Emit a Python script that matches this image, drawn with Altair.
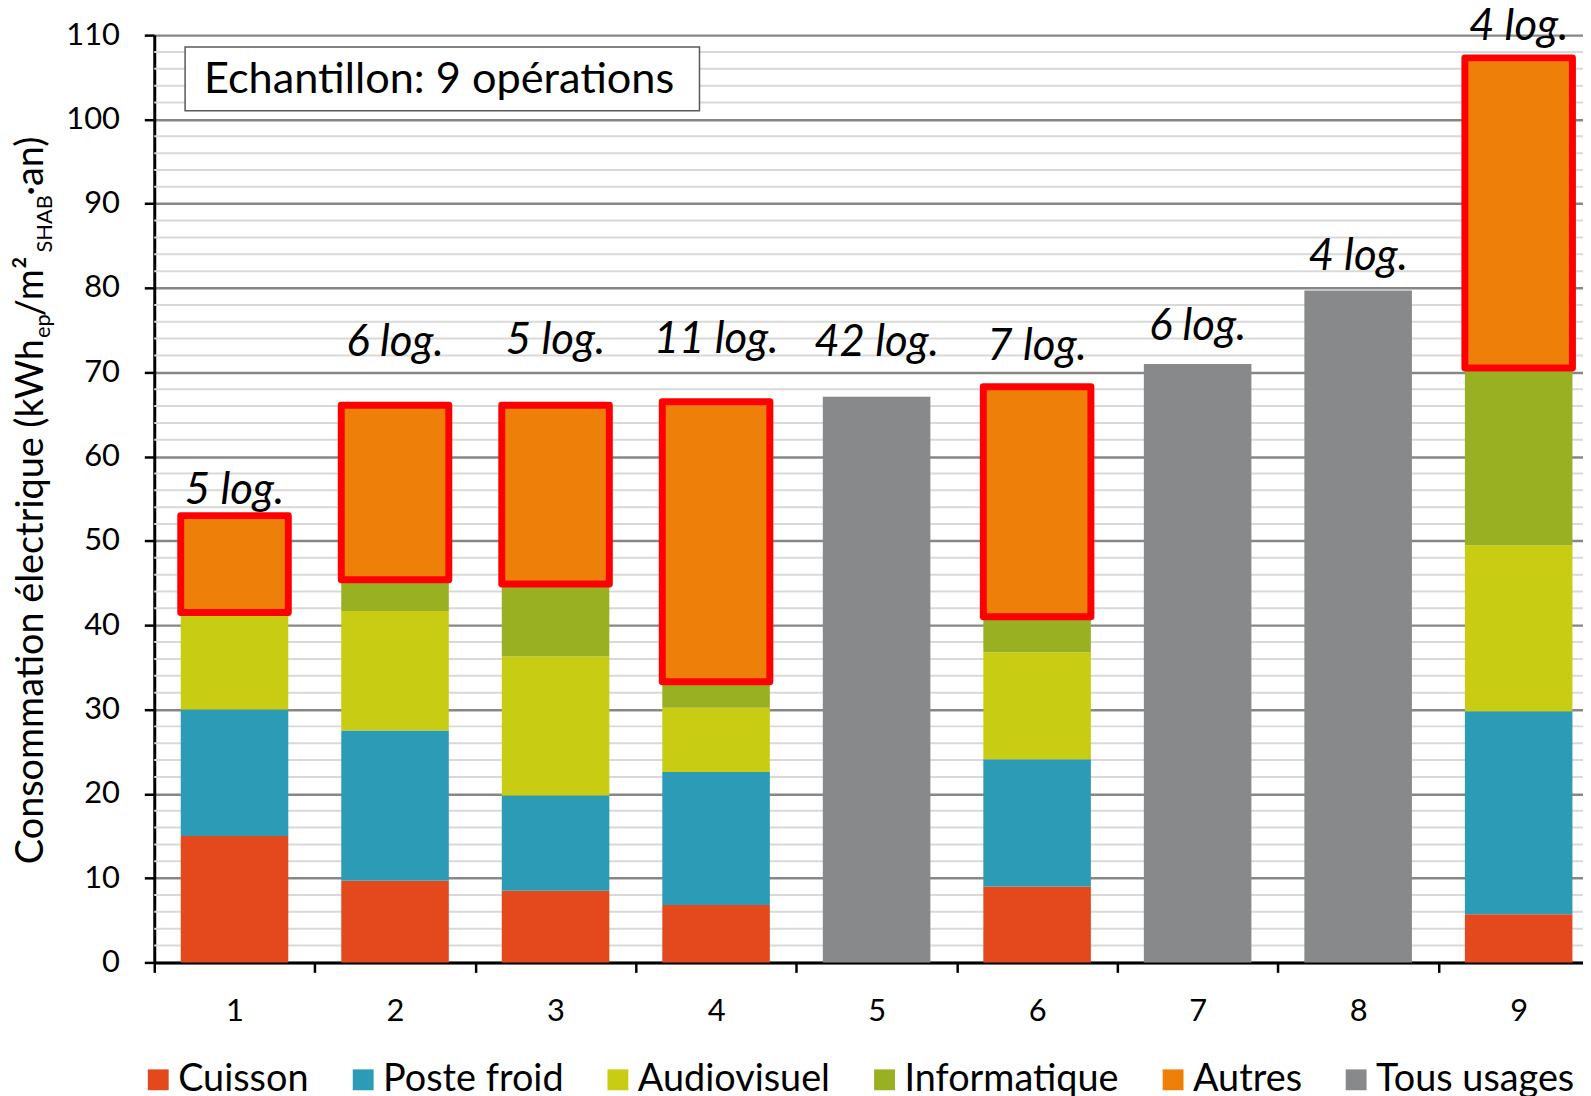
import altair as alt
import pandas as pd

# ---------------- data ----------------
operations = ["1", "2", "3", "4", "5", "6", "7", "8", "9"]
categories = ["Cuisson", "Poste froid", "Audiovisuel", "Informatique", "Autres", "Tous usages"]
colors = ["#E4491D", "#2B9BB6", "#C8CC12", "#99B023", "#EE8009", "#88898B"]

cuisson      = [15.0, 9.7, 8.5, 6.8, 0.0, 9.0, 0.0, 0.0, 5.7]
poste_froid  = [15.0, 17.8, 11.3, 15.8, 0.0, 15.1, 0.0, 0.0, 24.1]
audiovisuel  = [11.2, 14.2, 16.5, 7.6, 0.0, 12.7, 0.0, 0.0, 19.7]
informatique = [0.3, 3.7, 8.6, 3.1, 0.0, 4.2, 0.0, 0.0, 21.0]
autres       = [11.5, 20.7, 21.2, 33.2, 0.0, 27.3, 0.0, 0.0, 36.8]
tous_usages  = [0.0, 0.0, 0.0, 0.0, 67.1, 0.0, 71.0, 79.7, 0.0]
logements    = [5, 6, 5, 11, 42, 7, 6, 4, 4]
label_height = [55.9, 73.5, 73.7, 73.8, 73.5, 73.0, 75.4, 83.7, 111.0]

sample_text = "Echantillon: 9 opérations"
y_major_ticks = list(range(0, 111, 10))
y_minor_ticks = [v for v in range(0, 111, 2) if v % 10]

# ---------------- tables built from the arrays ----------------
series = [cuisson, poste_froid, audiovisuel, informatique, autres, tous_usages]
rows = []
for i, op in enumerate(operations):
    for k, (cat, vals) in enumerate(zip(categories, series)):
        if vals[i] > 0:
            rows.append({"op": op, "category": cat, "value": vals[i], "order": k})
bars_df = pd.DataFrame(rows)

out_rows = []
for i, op in enumerate(operations):
    if autres[i] > 0:
        base = cuisson[i] + poste_froid[i] + audiovisuel[i] + informatique[i]
        out_rows.append({"op": op, "y0": base, "y1": base + autres[i]})
outline_df = pd.DataFrame(out_rows)

labels_df = pd.DataFrame({
    "op": operations,
    "label_y": label_height,
    "label": [f"{n} log." for n in logements],
})
minor_df = pd.DataFrame({"v": y_minor_ticks})

# ---------------- scales / axes ----------------
FONT = "Lato"
PLOT_W, PLOT_H = 1452, 932
x_scale = alt.Scale(paddingInner=0, paddingOuter=0)
y_scale = alt.Scale(domain=[0, 110], nice=False, zero=True)
x_axis = alt.Axis(title=None, labelFont=FONT, labelFontSize=31, labelColor="black",
                  labelAngle=0, labelPadding=24, tickBand="extent", tickSize=10,
                  tickWidth=2.5, tickColor="black", domainColor="black",
                  domainWidth=3, grid=False)
y_axis = alt.Axis(title=None, values=y_major_ticks, labelFont=FONT, labelFontSize=31,
                  labelColor="black", labelPadding=25, tickSize=10, tickWidth=2.5,
                  tickColor="black", domainColor="black", domainWidth=3,
                  grid=True, gridColor="#878787", gridWidth=2.5)

X = alt.X("op:O", sort=operations, scale=x_scale, axis=x_axis)

minor = alt.Chart(minor_df).mark_rule(color="#D9D9D9", strokeWidth=2).encode(
    y=alt.Y("v:Q", scale=y_scale, axis=y_axis)
)

bars = alt.Chart(bars_df).mark_bar(width={"band": 0.67}).encode(
    x=X,
    y=alt.Y("sum(value):Q", stack="zero", scale=y_scale, axis=y_axis),
    color=alt.Color(
        "category:N",
        scale=alt.Scale(domain=categories, range=colors),
        legend=alt.Legend(
            title=None, orient="none", direction="horizontal",
            legendX=-15, legendY=1031,
            labelFont=FONT, labelFontSize=38, labelColor="black", labelLimit=500,
            symbolType="square", symbolSize=440, symbolStrokeWidth=0,
            symbolOpacity=1, labelOffset=1, columnPadding=35,
        ),
    ),
    order=alt.Order("order:Q", sort="ascending"),
)

outline = alt.Chart(outline_df).mark_bar(
    width={"band": 0.67}, filled=False, color="#FF0000", strokeWidth=7, strokeJoin="round"
).encode(
    x=X,
    y=alt.Y("y0:Q", scale=y_scale, axis=y_axis),
    y2="y1:Q",
)

labels = alt.Chart(labels_df).mark_text(
    font=FONT, fontStyle="italic", fontSize=44, color="black",
    align="center", baseline="middle"
).encode(
    x=X,
    y=alt.Y("label_y:Q", scale=y_scale, axis=y_axis),
    text="label:N",
)

one = pd.DataFrame({"k": [0]})
box = alt.Chart(one).mark_rect(fill="white", stroke="#595959", strokeWidth=1.5).encode(
    x=alt.value(31), x2=alt.value(548), y=alt.value(12), y2=alt.value(76)
)
box_text = alt.Chart(one).mark_text(
    font=FONT, fontSize=43.5, color="black", align="left", baseline="middle"
).encode(x=alt.value(50), y=alt.value(45.5), text=alt.value(sample_text))

# y-axis title with sub/superscripts (rotated text pieces)
TX, TY = -111.5, 305.5
def title_piece(txt, size, align, dx, dy):
    return alt.Chart(one).mark_text(
        font=FONT, fontSize=size, color="black", angle=270,
        align=align, baseline="alphabetic", dx=dx, dy=dy
    ).encode(x=alt.value(TX), y=alt.value(TY), text=alt.value(txt))

t1 = title_piece("Consommation électrique (kWh", 38, "right", 0, 0)
t2 = title_piece("ep", 22, "left", 1, 7)
t3 = title_piece("/m²", 38, "left", 23, 0)
t4 = title_piece("SHAB", 22, "left", 87, 8.5)
t5 = title_piece("·an)", 38, "left", 144, 0)

chart = alt.layer(
    minor, bars, outline, labels, box, box_text, t1, t2, t3, t4, t5
).properties(
    width=PLOT_W,
    height=PLOT_H,
    autosize=alt.AutoSizeParams(type="none"),
    padding={"left": 147, "top": 24.5, "right": -16, "bottom": 131.5},
    background="white",
).configure_view(strokeWidth=0)

chart.save("out.html", embed_options={"renderer": "svg", "actions": False})
